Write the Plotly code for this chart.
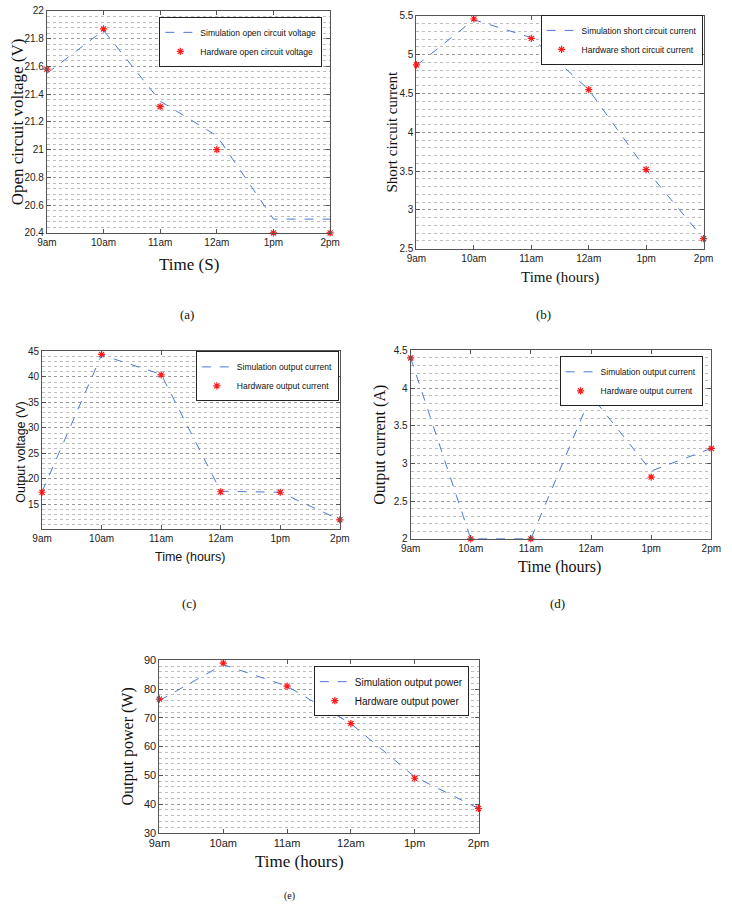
import plotly.graph_objects as go

# ---------------- data ----------------
times = ["9am", "10am", "11am", "12am", "1pm", "2pm"]

voc_sim = [21.55, 21.86, 21.35, 21.10, 20.50, 20.50]
voc_hw = [21.58, 21.87, 21.31, 21.00, 20.40, 20.40]

isc_sim = [4.86, 5.45, 5.22, 4.55, 3.52, 2.63]
isc_hw = [4.87, 5.46, 5.21, 4.55, 3.52, 2.63]

vout_sim = [17.5, 44.3, 40.5, 17.6, 17.4, 12.0]
vout_hw = [17.4, 44.4, 40.4, 17.5, 17.4, 12.0]

iout_sim = [4.40, 2.00, 2.00, 3.90, 2.90, 3.20]
iout_hw = [4.40, 2.00, 2.00, 3.90, 2.82, 3.20]

pout_sim = [76.0, 88.5, 81.0, 68.0, 49.5, 38.5]
pout_hw = [76.5, 89.0, 81.0, 68.0, 49.0, 38.5]

W, H = 732, 910
BLUE = "#4a78d6"
RED = "#ff1a1a"
SANS = "Liberation Sans, Arial, sans-serif"
SERIF = "Liberation Serif, Times New Roman, serif"


def px_x(v):
    return v / W


def px_y(v):
    return 1 - v / H


panels = [
    dict(sim=voc_sim, hw=voc_hw, sl="Simulation open circuit voltage", hl="Hardware open circuit voltage",
         box=(37, 329, 5, 230), yr=[20.4, 22.0], dt=0.2, mdt=0.04, leg=(321, 11), lfs=8.5, tfs=10,
         ytitle="Open circuit voltage (V)", yt_pos=(7, 117), yt_font=(SERIF, 17),
         xtitle="Time (S)", xt_pos=(183, 262), xt_font=(SERIF, 17), cap="(a)", cap_pos=(181, 313), cap_fs=13),
    dict(sim=isc_sim, hw=isc_hw, sl="Simulation short circuit current", hl="Hardware short circuit current",
         box=(418, 714, 10, 246), yr=[2.5, 5.5], dt=0.5, mdt=0.1, leg=(713, 9), lfs=8.5, tfs=10,
         ytitle="Short circuit current", yt_pos=(393, 127), yt_font=(SERIF, 15),
         xtitle="Time (hours)", xt_pos=(566, 275), xt_font=(SERIF, 15), cap="(b)", cap_pos=(549, 313), cap_fs=13),
    dict(sim=vout_sim, hw=vout_hw, sl="Simulation output current", hl="Hardware output current",
         box=(32, 339, 350, 530), yr=[10.2, 45], dt=5, mdt=1, leg=(338, 350), lfs=8.5, tfs=10,
         ytitle="Output voltage (V)", yt_pos=(10, 452), yt_font=(SANS, 12.5),
         xtitle="Time (hours)", xt_pos=(185, 558), xt_font=(SANS, 12.5), cap="(c)", cap_pos=(183, 605), cap_fs=13),
    dict(sim=iout_sim, hw=iout_hw, sl="Simulation output current", hl="Hardware output current",
         box=(412, 722, 349, 540), yr=[2.0, 4.5], dt=0.5, mdt=0.1, leg=(713, 355), lfs=8.5, tfs=10,
         ytitle="Output current (A)", yt_pos=(381, 445), yt_font=(SERIF, 16),
         xtitle="Time (hours)", xt_pos=(566, 568), xt_font=(SERIF, 16), cap="(d)", cap_pos=(563, 605), cap_fs=13),
    dict(sim=pout_sim, hw=pout_hw, sl="Simulation output power", hl="Hardware output power",
         box=(153, 482, 663, 838), yr=[30, 90], dt=10, mdt=2, leg=(472, 669), lfs=10, tfs=11,
         ytitle="Output power (W)", yt_pos=(121, 750), yt_font=(SERIF, 16),
         xtitle="Time (hours)", xt_pos=(297, 867), xt_font=(SERIF, 17), cap="(e)", cap_pos=(287, 902), cap_fs=10),
]

fig = go.Figure()
layout = dict(
    width=W, height=H, margin=dict(l=0, r=0, t=0, b=0),
    paper_bgcolor="white", plot_bgcolor="white", showlegend=True,
)
annotations = []

for i, p in enumerate(panels, start=1):
    sfx = "" if i == 1 else str(i)
    lg = "legend" if i == 1 else f"legend{i}"
    fig.add_trace(go.Scatter(
        x=times, y=p["sim"], mode="lines", name=p["sl"],
        line=dict(color=BLUE, width=1, dash="dash"),
        xaxis=f"x{sfx}", yaxis=f"y{sfx}", legend=lg,
    ))
    fig.add_trace(go.Scatter(
        x=times, y=p["hw"], mode="markers", name=p["hl"],
        marker=dict(symbol="asterisk-open", size=6, color=RED, line=dict(color=RED, width=1.2)),
        xaxis=f"x{sfx}", yaxis=f"y{sfx}", legend=lg, cliponaxis=False,
    ))
    l, r, t, b = p["box"]
    layout[f"xaxis{sfx}"] = dict(
        domain=[px_x(l), px_x(r)], anchor=f"y{sfx}", type="category",
        categoryorder="array", categoryarray=times, range=[0, 5],
        showgrid=False, zeroline=False, showline=True, linecolor="#555", linewidth=1,
        mirror="ticks", ticks="inside", ticklen=4, tickcolor="#555",
        tickfont=dict(family=SANS, size=p["tfs"], color="#222"),
    )
    layout[f"yaxis{sfx}"] = dict(
        domain=[px_y(b), px_y(t)], anchor=f"x{sfx}", range=p["yr"],
        dtick=p["dt"], tick0=p["yr"][0] if i != 3 else 0,
        showgrid=True, gridcolor="#9a9a9a", griddash="dot", gridwidth=1,
        minor=dict(dtick=p["mdt"], showgrid=True, gridcolor="#bdbdbd", griddash="dot", gridwidth=1),
        zeroline=False, showline=True, linecolor="#555", linewidth=1,
        mirror="ticks", ticks="inside", ticklen=4, tickcolor="#555",
        tickfont=dict(family=SANS, size=p["tfs"], color="#222"),
    )
    lr, lt = p["leg"]
    layout[lg] = dict(
        x=px_x(lr), y=px_y(lt), xanchor="right", yanchor="top",
        xref="paper", yref="paper",
        bgcolor="white", bordercolor="#222", borderwidth=1,
        font=dict(family=SANS, size=p["lfs"], color="#111"),
        tracegroupgap=0, itemwidth=30,
    )
    yx, yy = p["yt_pos"]
    annotations.append(dict(
        text=p["ytitle"], x=px_x(yx), y=px_y(yy), xref="paper", yref="paper",
        textangle=-90, showarrow=False, xanchor="center", yanchor="middle",
        font=dict(family=p["yt_font"][0], size=p["yt_font"][1], color="#111"),
    ))
    xx, xy = p["xt_pos"]
    annotations.append(dict(
        text=p["xtitle"], x=px_x(xx), y=px_y(xy), xref="paper", yref="paper",
        showarrow=False, xanchor="center", yanchor="middle",
        font=dict(family=p["xt_font"][0], size=p["xt_font"][1], color="#111"),
    ))
    cx, cy = p["cap_pos"]
    annotations.append(dict(
        text=p["cap"], x=px_x(cx), y=px_y(cy), xref="paper", yref="paper",
        showarrow=False, xanchor="center", yanchor="middle",
        font=dict(family=SERIF, size=p["cap_fs"], color="#111"),
    ))

layout["annotations"] = annotations
fig.update_layout(**layout)
fig.write_html("out.html")
